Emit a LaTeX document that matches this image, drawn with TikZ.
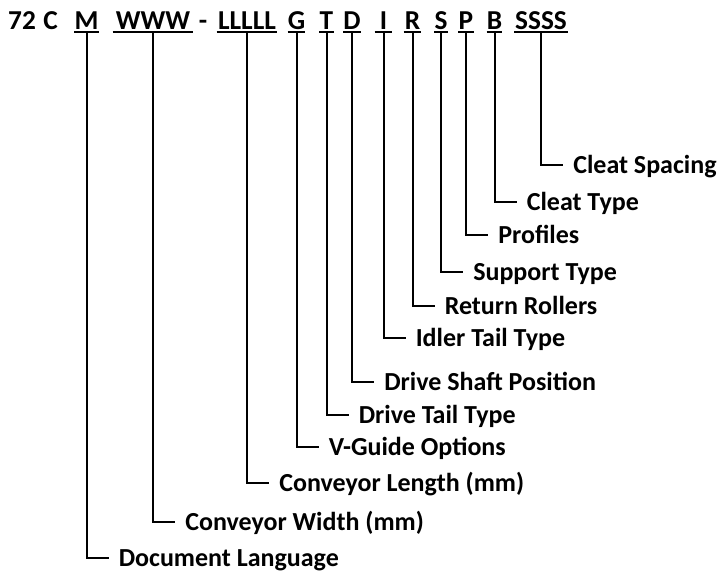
\documentclass[tikz,border=0pt]{standalone}
\usepackage{fontspec}
\setmainfont{Carlito}
\begin{document}
\begin{tikzpicture}[x=0.75pt,y=-0.75pt,
  every node/.style={font=\fontsize{19.5}{23}\selectfont\bfseries, inner sep=0pt},
  top/.style={font=\fontsize{20.5}{24}\selectfont\bfseries},
  cd/.style={top, minimum width=#1*0.75pt, text depth=1.5pt, anchor=base},
  plain/.style={top, anchor=base},
  lab/.style={anchor=west, inner xsep=7.5pt, text height=12.6pt, text depth=0pt},
  uline/.style={line width=1.5pt},
  conn/.style={line width=1.5pt}]
\useasboundingbox (0,0) rectangle (721,574);
% code line
\node[plain] (n72) at (22,30) {72};
\node[plain] (nC) at (50.5,30) {C};
\node[cd=21] (M) at (86.5,30) {M};
\node[cd=80] (W) at (153,30) {WWW};
\node[plain] (dash) at (203,30) {-};
\node[cd=60] (L) at (247,30) {LLLLL};
\node[cd=17] (G) at (296.5,30) {G};
\node[cd=13] (T) at (326.5,30) {T};
\node[cd=17] (D) at (352,30) {D};
\node[cd=17] (I) at (383.5,30) {I};
\node[cd=17] (R) at (412.5,30) {R};
\node[cd=12] (S) at (441,30) {S};
\node[cd=13] (P) at (466,30) {P};
\node[cd=15] (B) at (494.5,30) {B};
\node[cd=53] (SS) at (541,30) {SSSS};
\foreach \n in {M,W,L,G,T,D,I,R,S,P,B,SS}
  \draw[uline] (\n.south west) -- (\n.south east);
% labels
\node[lab] (lSS) at (563,165) {Cleat Spacing};
\node[lab] (lB) at (516.5,202) {Cleat Type};
\node[lab] (lP) at (488,235) {Profiles};
\node[lab] (lS) at (463,272) {Support Type};
\node[lab] (lR) at (434.5,306) {Return Rollers};
\node[lab] (lI) at (405.5,338) {Idler Tail Type};
\node[lab] (lD) at (374,382) {Drive Shaft Position};
\node[lab] (lT) at (348.5,415) {Drive Tail Type};
\node[lab] (lG) at (318.5,447) {V-Guide Options};
\node[lab] (lL) at (269,483) {Conveyor Length (mm)};
\node[lab] (lW) at (175,522) {Conveyor Width (mm)};
\node[lab] (lM) at (108.5,558) {Document Language};
\foreach \n in {M,W,L,G,T,D,I,R,S,P,B,SS}
  \draw[conn] (\n.south) |- (l\n.west);
\end{tikzpicture}
\end{document}
